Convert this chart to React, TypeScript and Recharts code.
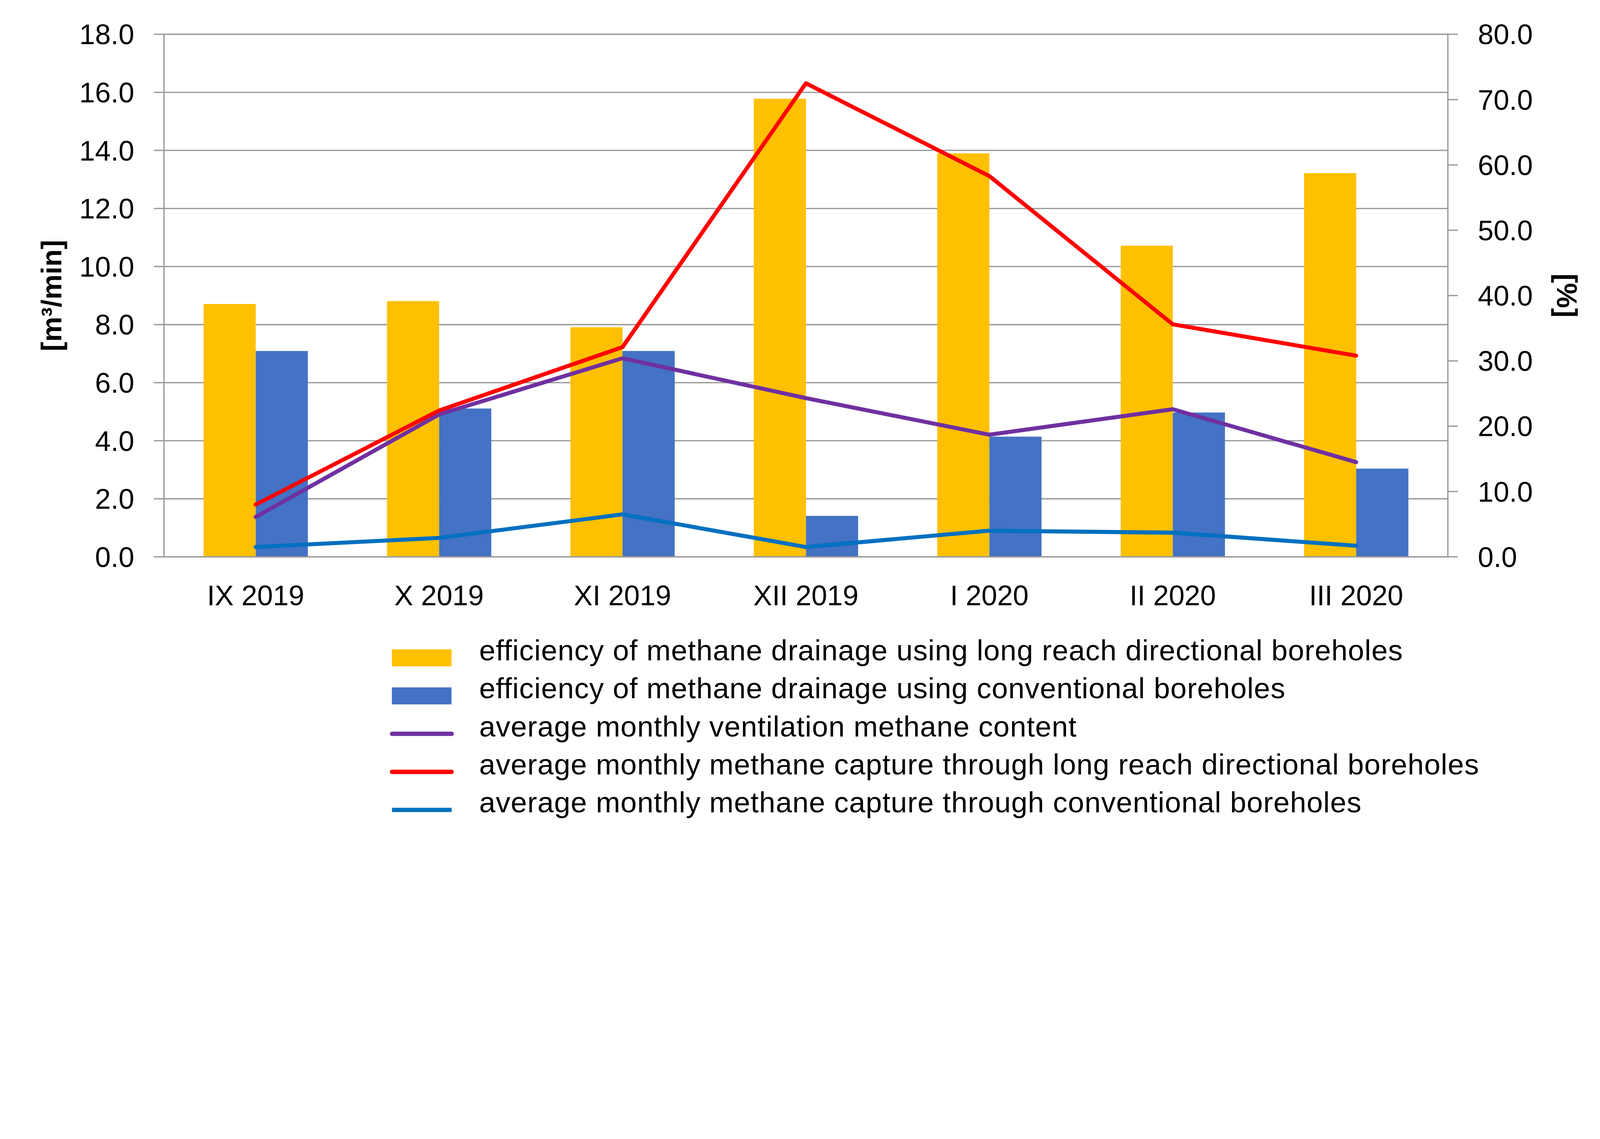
import { Bar, CartesianGrid, ComposedChart, Label, Legend, Line, XAxis, YAxis } from "recharts";

const months = ["IX 2019", "X 2019", "XI 2019", "XII 2019", "I 2020", "II 2020", "III 2020"];
// left axis [m3/min]
const longReachDrainage = [8.71, 8.81, 7.91, 15.78, 13.9, 10.72, 13.22];
const conventionalDrainage = [7.09, 5.11, 7.09, 1.41, 4.14, 4.97, 3.04];
// right axis [%]
const ventilationContent = [6.1, 21.8, 30.4, 24.3, 18.7, 22.6, 14.5];
const longReachCapture = [8.0, 22.4, 32.1, 72.5, 58.3, 35.6, 30.8];
const conventionalCapture = [1.5, 2.9, 6.5, 1.5, 4.0, 3.7, 1.7];

const leftTicks = [0, 2, 4, 6, 8, 10, 12, 14, 16, 18];
const rightTicks = [0, 10, 20, 30, 40, 50, 60, 70, 80];
const categoryEdges = [0, 1, 2, 3, 4, 5, 6, 7];

const seriesOrder = ["longReachDrainage", "conventionalDrainage", "ventilationContent", "longReachCapture", "conventionalCapture"];

const data = months.map((month, i) => ({
  month,
  longReachDrainage: longReachDrainage[i],
  conventionalDrainage: conventionalDrainage[i],
  ventilationContent: ventilationContent[i],
  longReachCapture: longReachCapture[i],
  conventionalCapture: conventionalCapture[i],
}));

const W = 5553;
const H = 2915;
const FONT = "'Liberation Sans', Arial, sans-serif";
const GRID = "#9a9a9a";
const tickStyle = { fontSize: 98, fill: "#000", fontFamily: FONT };

function LegendRows({ payload }: any) {
  const items = [...(payload ?? [])].sort(
    (a: any, b: any) => seriesOrder.indexOf(a.dataKey) - seriesOrder.indexOf(b.dataKey),
  );
  return (
    <div>
      {items.map((item: any) => (
        <div key={item.dataKey} style={{ display: "flex", height: 132 }}>
          <svg width={313} height={132}>
            {item.type === "rect" ? (
              <rect x={10} y={63} width={207} height={59} fill={item.color} />
            ) : (
              <line
                x1={10.5}
                x2={217.5}
                y1={92}
                y2={92}
                stroke={item.color}
                strokeWidth={15}
                strokeLinecap={item.dataKey === "conventionalCapture" ? "butt" : "round"}
              />
            )}
          </svg>
          <span style={{ fontFamily: FONT, fontSize: 101, letterSpacing: 1.5, lineHeight: "132px", color: "#000", whiteSpace: "nowrap" }}>
            {item.value}
          </span>
        </div>
      ))}
    </div>
  );
}

export default function App() {
  // the page may be narrower in CSS px than the photo; fit the fixed-size chart to it
  const fit = typeof window !== "undefined" && window.innerWidth ? window.innerWidth / W : 1;
  return (
    <div style={{ position: "absolute", left: 0, top: 0, width: W, height: H, background: "#fff", transform: `scale(${fit})`, transformOrigin: "0 0" }}>
      <ComposedChart width={W} height={H} data={data} margin={{ top: 119, right: 0, bottom: 783, left: 0 }} barCategoryGap="21.6%" barGap={0}>
        <CartesianGrid yAxisId="left" vertical={false} stroke={GRID} strokeWidth={4.5} />
        <XAxis
          xAxisId="edges"
          type="number"
          domain={[0, 7]}
          allowDataOverflow
          ticks={categoryEdges}
          tick={false}
          axisLine={false}
          tickSize={32}
          tickLine={{ stroke: GRID, strokeWidth: 4.5 }}
          height={0}
        />
        <XAxis
          xAxisId="cat"
          dataKey="month"
          interval={0}
          height={200}
          tickSize={0}
          tickMargin={98}
          tickLine={false}
          axisLine={{ stroke: GRID, strokeWidth: 4.5 }}
          tick={tickStyle}
        />
        <YAxis
          yAxisId="left"
          domain={[0, 18]}
          ticks={leftTicks}
          width={569}
          tickSize={35}
          tickMargin={68}
          tickFormatter={(v: number) => v.toFixed(1)}
          axisLine={{ stroke: GRID, strokeWidth: 4.5 }}
          tickLine={{ stroke: GRID, strokeWidth: 4.5 }}
          tick={tickStyle}
        >
          <Label
            value="[m³/min]"
            angle={-90}
            position="insideLeft"
            offset={178}
            style={{ textAnchor: "middle", fontWeight: 700, fontSize: 98, fontFamily: FONT, fill: "#000" }}
          />
        </YAxis>
        <YAxis
          yAxisId="right"
          orientation="right"
          domain={[0, 80]}
          ticks={rightTicks}
          width={528}
          tickSize={35}
          tickMargin={69}
          tickFormatter={(v: number) => v.toFixed(1)}
          axisLine={{ stroke: GRID, strokeWidth: 4.5 }}
          tickLine={{ stroke: GRID, strokeWidth: 4.5 }}
          tick={tickStyle}
        >
          <Label
            value="[%]"
            angle={90}
            position="insideRight"
            offset={115}
            style={{ textAnchor: "middle", fontWeight: 700, fontSize: 98, fontFamily: FONT, fill: "#000" }}
          />
        </YAxis>
        <Bar xAxisId="cat" yAxisId="left" dataKey="longReachDrainage" name="efficiency of methane drainage using long reach directional boreholes" fill="#FFC000" legendType="rect" isAnimationActive={false} />
        <Bar xAxisId="cat" yAxisId="left" dataKey="conventionalDrainage" name="efficiency of methane drainage using conventional boreholes" fill="#4472C4" legendType="rect" isAnimationActive={false} />
        <Line xAxisId="cat" yAxisId="right" type="linear" dataKey="ventilationContent" name="average monthly ventilation methane content" stroke="#7030A0" strokeWidth={14} strokeLinecap="round" strokeLinejoin="round" dot={false} activeDot={false} legendType="line" isAnimationActive={false} />
        <Line xAxisId="cat" yAxisId="right" type="linear" dataKey="longReachCapture" name="average monthly methane capture through long reach directional boreholes" stroke="#FF0000" strokeWidth={14} strokeLinecap="round" strokeLinejoin="round" dot={false} activeDot={false} legendType="line" isAnimationActive={false} />
        <Line xAxisId="cat" yAxisId="right" type="linear" dataKey="conventionalCapture" name="average monthly methane capture through conventional boreholes" stroke="#0070C0" strokeWidth={14} strokeLinecap="round" strokeLinejoin="round" dot={false} activeDot={false} legendType="line" isAnimationActive={false} />
        <Legend
          layout="vertical"
          align="center"
          verticalAlign="middle"
          wrapperStyle={{ left: 1350, top: 2190, width: 4000 }}
          content={LegendRows}
        />
      </ComposedChart>
    </div>
  );
}
